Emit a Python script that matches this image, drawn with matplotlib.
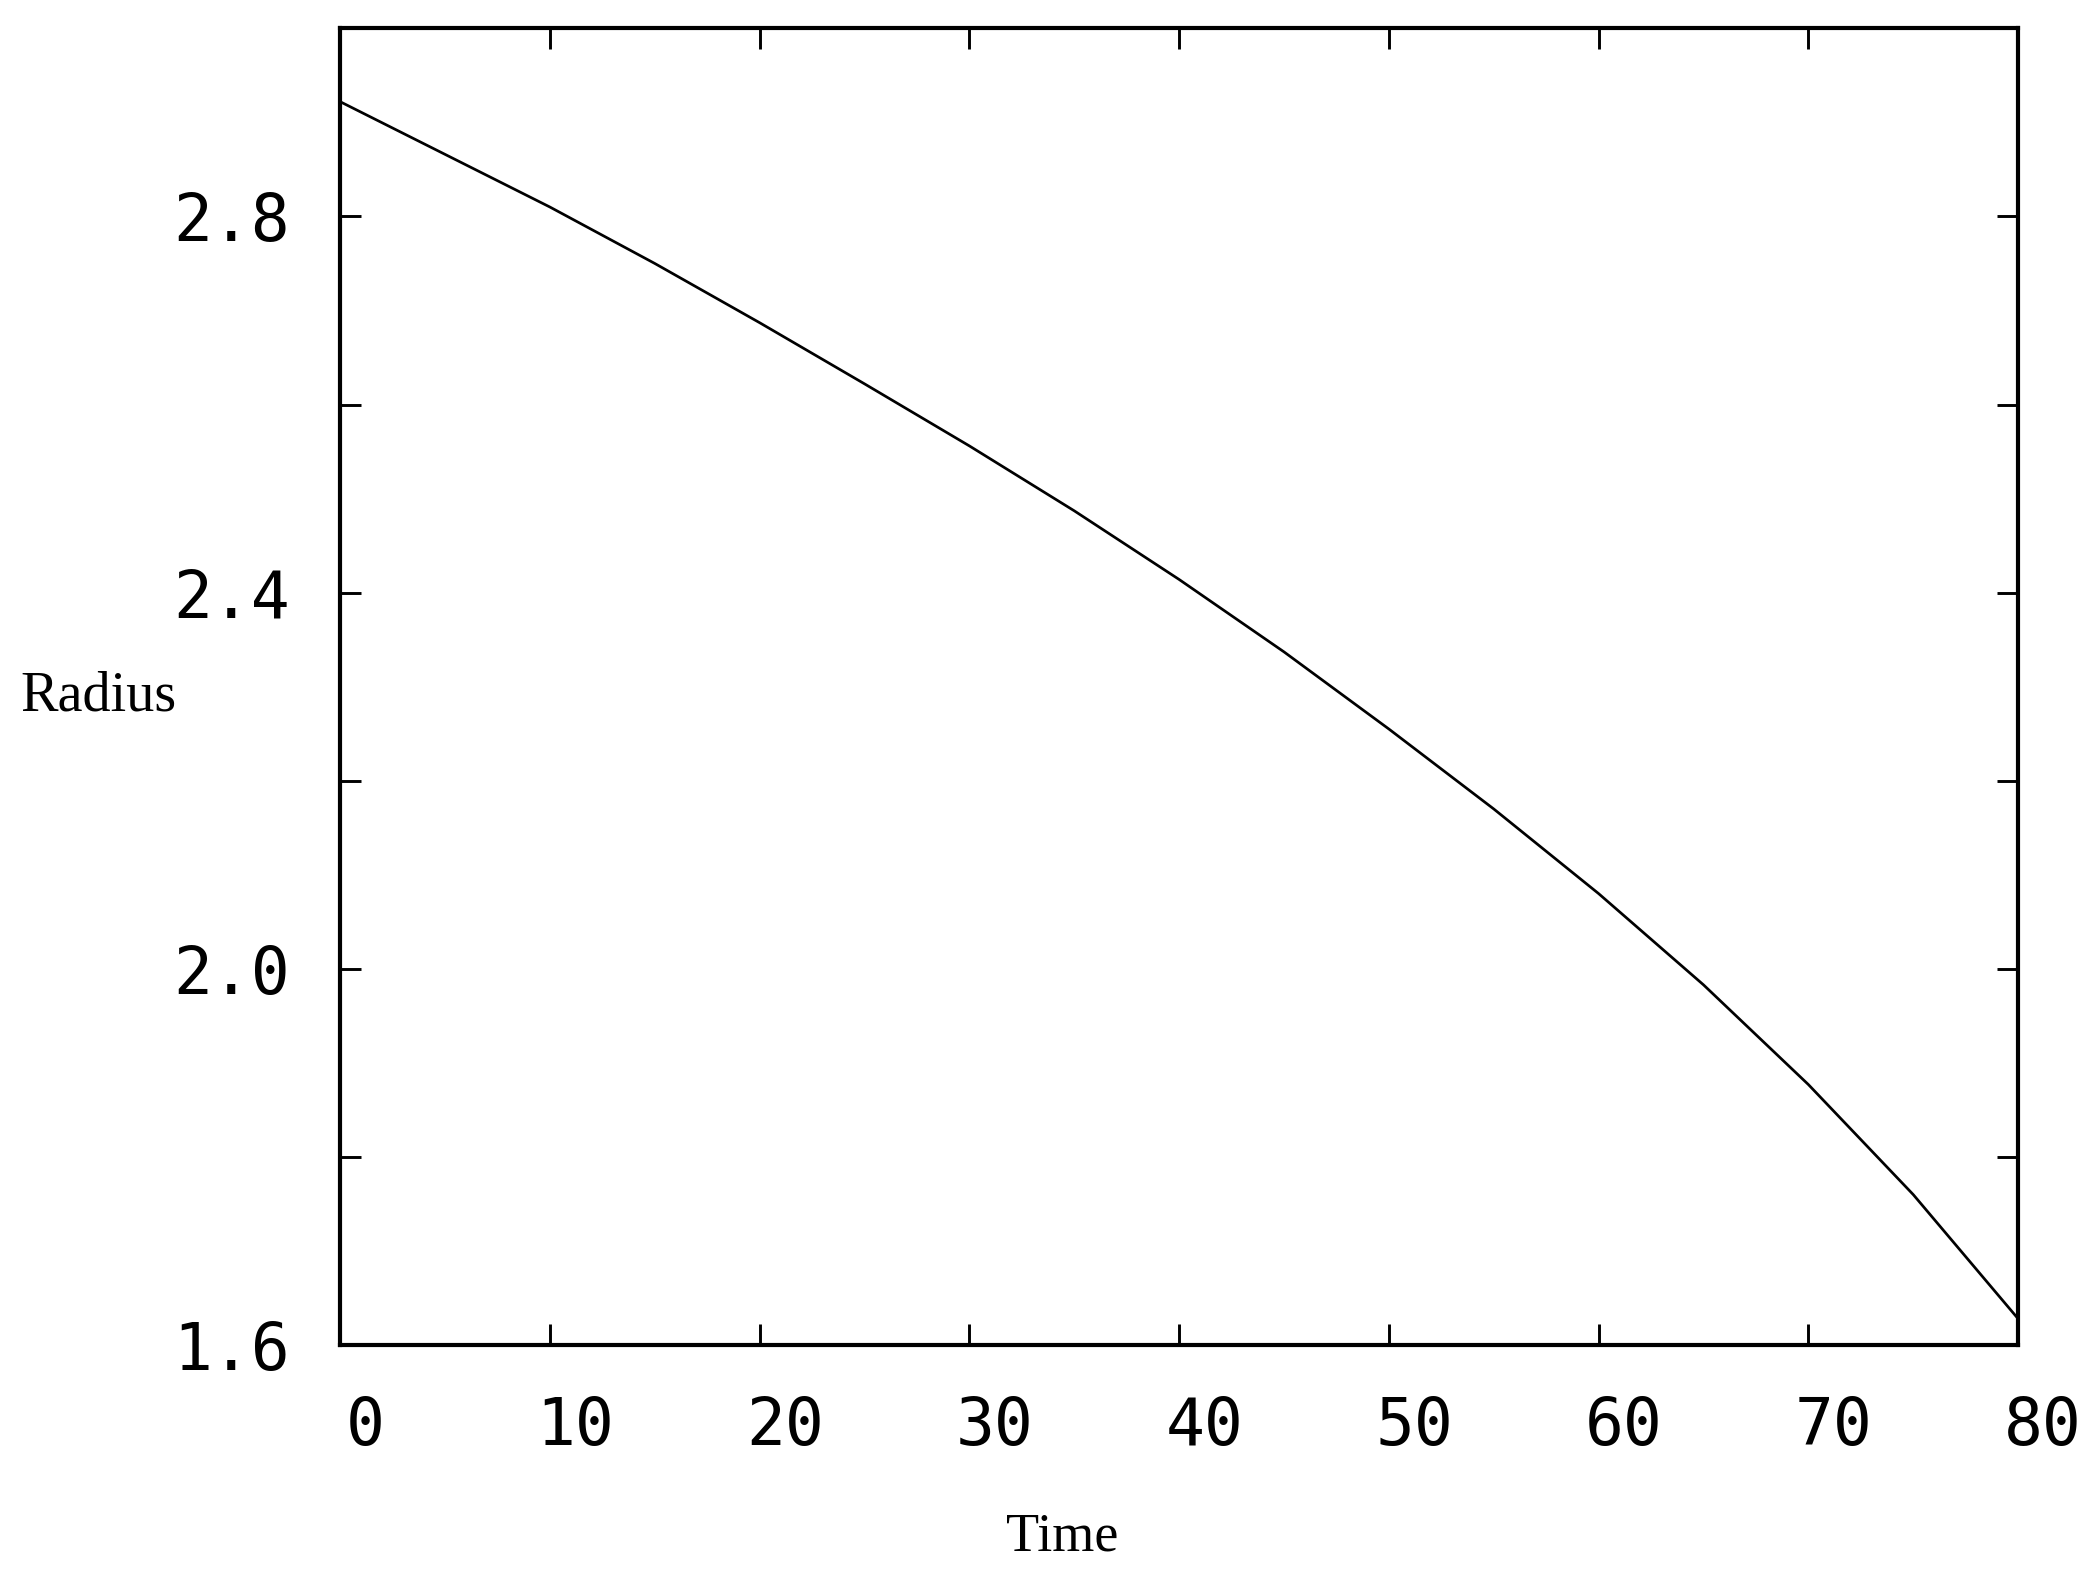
import matplotlib.pyplot as plt
import matplotlib.transforms as mtransforms

# data
time = [0, 5, 10, 15, 20, 25, 30, 35, 40, 45, 50, 55, 60, 65, 70, 75, 80]
radius = [2.922, 2.866, 2.810, 2.750, 2.687, 2.622, 2.556, 2.487, 2.414, 2.337,
          2.255, 2.170, 2.080, 1.983, 1.877, 1.760, 1.628]

x_ticks = [0, 10, 20, 30, 40, 50, 60, 70, 80]
y_ticks = [1.6, 1.8, 2.0, 2.2, 2.4, 2.6, 2.8]
y_labels = ['1.6', '', '2.0', '', '2.4', '', '2.8']

fig = plt.figure(figsize=(14, 10.5), dpi=150)
ax = fig.add_axes([0.162, 0.146, 0.799, 0.836])

ax.plot(time, radius, color='black', linewidth=1.3)

ax.set_xlim(0, 80)
ax.set_ylim(1.6, 3.0)
ax.set_xticks(x_ticks)
ax.set_yticks(y_ticks)
ax.set_yticklabels(y_labels)

for lab in ax.get_xticklabels() + ax.get_yticklabels():
    lab.set_fontfamily('DejaVu Sans Mono')
    lab.set_fontsize(31)

ax.tick_params(direction='in', length=10, width=1.4, top=True, right=True,
               labelcolor='black')
ax.tick_params(axis='x', pad=24)
ax.tick_params(axis='y', pad=24)

# gnuplot-style: x tick labels sit slightly right of the ticks
shift = mtransforms.ScaledTranslation(12 / 72, 0, fig.dpi_scale_trans)
for lab in ax.get_xticklabels():
    lab.set_transform(lab.get_transform() + shift)

for sp in ax.spines.values():
    sp.set_linewidth(2.0)

fig.text(0.0095, 0.558, 'Radius', family='Liberation Serif', fontsize=27,
         ha='left', va='center')
fig.text(0.506, 0.024, 'Time', family='Liberation Serif', fontsize=26,
         ha='center', va='center')

fig.savefig('out.png', dpi=150)
